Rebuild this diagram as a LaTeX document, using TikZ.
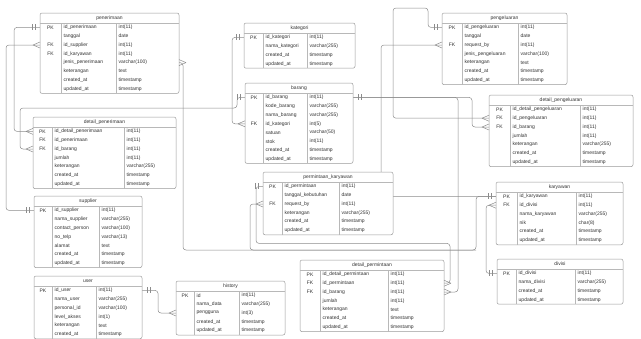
\documentclass[tikz,border=0pt]{standalone}
\usepackage{fontspec}
\setmainfont{Liberation Sans}
\usetikzlibrary{calc,backgrounds}
\definecolor{edgec}{HTML}{8C8C8C}
\definecolor{boxline}{HTML}{9A9A9A}
\definecolor{txt}{HTML}{333333}
\tikzset{
 tbl/.style={draw=boxline, fill=white, line width=0.5pt, rounded corners=2pt},
 erline/.style={draw=boxline!70, line width=0.4pt},
 titletext/.style={font=\fontsize{5}{6}\selectfont, text=txt, inner sep=0pt},
 celltext/.style={font=\fontsize{5}{6}\selectfont, text=txt, inner sep=0pt},
 rowanchor/.style={inner sep=0pt, outer sep=0pt, minimum height=8.8pt},
 conn/.style={draw=edgec, line width=0.5pt, rounded corners=3pt},
 ermark/.style={draw=edgec, line width=0.5pt},
}
\def\rowh{8.8}
\def\tith{10}
% #1 id, #2 left, #3 top, #4 right, #5 col1, #6 col2, #7 nrows, #8 title, #9 rows
\newcommand\ertable[9]{%
 \pgfmathsetmacro\erbot{#3+\tith+#7*\rowh}%
 \pgfmathsetmacro\ertb{#3+\tith}%
 \filldraw[tbl] (#2,#3) rectangle (#4,\erbot);
 \draw[erline] (#2,\ertb) -- (#4,\ertb);
 \draw[erline] (#5,\ertb) -- (#5,\erbot);
 \draw[erline] (#6,\ertb) -- (#6,\erbot);
 \node[titletext] (#1-t) at ({(#2+#4)/2},{#3+\tith/2}) {#8};
 \foreach \erk/\ern/\ert [count=\i] in {#9} {
   \pgfmathsetmacro\ry{\ertb+(\i-0.5)*\rowh}
   \node[rowanchor, minimum width={(#4-#2)*1pt}] (#1-\i) at ({(#2+#4)/2},\ry) {};
   \node[celltext] at ({(#2+#5)/2},\ry) {\erk};
   \node[celltext, anchor=west] at (#5+2.5,\ry) {\ern};
   \node[celltext, anchor=west] at (#6+2.5,\ry) {\ert};
 }%
}
\newcommand\crowW[1]{\draw[ermark] ([xshift=-7pt]#1.west) -- ([yshift=3pt]#1.west) ([xshift=-7pt]#1.west) -- ([yshift=-3pt]#1.west);}
\newcommand\crowE[1]{\draw[ermark] ([xshift=7pt]#1.east) -- ([yshift=3pt]#1.east) ([xshift=7pt]#1.east) -- ([yshift=-3pt]#1.east);}
\newcommand\oneW[1]{\draw[ermark] ([xshift=-5pt,yshift=3pt]#1.west) -- ([xshift=-5pt,yshift=-3pt]#1.west) ([xshift=-8pt,yshift=3pt]#1.west) -- ([xshift=-8pt,yshift=-3pt]#1.west);}
\newcommand\oneE[1]{\draw[ermark] ([xshift=5pt,yshift=3pt]#1.east) -- ([xshift=5pt,yshift=-3pt]#1.east) ([xshift=8pt,yshift=3pt]#1.east) -- ([xshift=8pt,yshift=-3pt]#1.east);}
\begin{document}
\begin{tikzpicture}[x=1pt,y=-1pt]
\useasboundingbox (0,0) rectangle (641,338);
\clip (0,0) rectangle (641,338);

\ertable{pen}{40}{13}{179}{61}{116}{8}{penerimaan}{PK/id\_penerimaan/int(11), {}/tanggal/date, FK/id\_supplier/int(11), FK/id\_karyawan/int(11), {}/jenis\_penerimaan/varchar(100), {}/keterangan/text, {}/created\_at/timestamp, {}/updated\_at/timestamp}

\ertable{dpen}{33}{117}{176}{52}{124}{7}{detail\_penerimaan}{PK/id\_detail\_penerimaan/int(11), FK/id\_penerimaan/int(11), FK/id\_barang/int(11), {}/jumlah/int(11), {}/keterangan/varchar(255), {}/created\_at/timestamp, {}/updated\_at/timestamp}

\ertable{sup}{34}{196}{142}{52}{99}{7}{supplier}{PK/id\_supplier/int(11), {}/nama\_supplier/varchar(255), {}/contact\_person/varchar(100), {}/no\_telp/varchar(13), {}/alamat/text, {}/created\_at/timestamp, {}/updated\_at/timestamp}

\ertable{usr}{34}{276}{142}{52}{96}{6}{user}{PK/id\_user/int(11), {}/nama\_user/varchar(255), {}/personal\_id/varchar(100), {}/level\_akses/int(1), {}/keterangan/text, {}/created\_at/timestamp}

\ertable{his}{176}{281}{285}{194}{239}{5}{history}{PK/id/int(11), {}/nama\_data/varchar(255), {}/pengguna/int(3), {}/created\_at/timestamp, {}/updated\_at/timestamp}

\ertable{kat}{244}{23}{355}{263}{307}{4}{kategori}{PK/id\_kategori/int(11), {}/nama\_kategori/varchar(255), {}/created\_at/timestamp, {}/updated\_at/timestamp}

\ertable{bar}{245}{83}{353}{263}{307}{8}{barang}{PK/id\_barang/int(11), {}/kode\_barang/varchar(255), {}/nama\_barang/varchar(255), FK/id\_kategori/int(5), {}/satuan/varchar(50), {}/stok/int(11), {}/created\_at/timestamp, {}/updated\_at/timestamp}

\ertable{pk}{263}{172}{393}{282}{339}{6}{permintaan\_karyawan}{PK/id\_permintaan/int(11), {}/tanggal\_kebutuhan/date, FK/request\_by/int(11), {}/keterangan/varchar(255), {}/created\_at/timestamp, {}/updated\_at/timestamp}

\ertable{dpm}{300}{260}{444}{320}{388}{7}{detail\_permintaan}{PK/id\_detail\_permintaan/int(11), FK/id\_permintaan/int(11), FK/id\_barang/int(11), {}/jumlah/int(11), {}/keterangan/text, {}/created\_at/timestamp, {}/updated\_at/timestamp}

\ertable{pg}{442}{13}{567}{462}{518}{7}{pengeluaran}{PK/id\_pengeluaran/int(11), {}/tanggal/date, FK/request\_by/int(11), {}/jenis\_pengeluaran/varchar(100), {}/keterangan/text, {}/created\_at/timestamp, {}/updated\_at/timestamp}

\ertable{dpg}{489}{95}{633}{510}{580}{7}{detail\_pengeluaran}{PK/id\_detail\_pengeluaran/int(11), FK/id\_pengeluaran/int(11), FK/id\_barang/int(11), {}/jumlah/int(11), {}/keterangan/varchar(255), {}/created\_at/timestamp, {}/updated\_at/timestamp}

\ertable{kar}{496}{182}{623}{517}{576}{6}{karyawan}{PK/id\_karyawan/int(11), FK/id\_divisi/int(11), {}/nama\_karyawan/varchar(255), {}/nik/char(8), {}/created\_at/timestamp, {}/updated\_at/timestamp}

\ertable{div}{497}{259}{623}{516}{575}{4}{divisi}{PK/id\_divisi/int(11), {}/nama\_divisi/varchar(255), {}/created\_at/timestamp, {}/updated\_at/timestamp}

\coordinate (jE) at (476,250);
\coordinate (jF) at (450,243.4);
\coordinate (jI) at (393,8);
\coordinate (jC) at (20,108);

\begin{scope}[on background layer]
 \fill[white] (0,0) rectangle (641,338);
 \draw[conn] (pen-1.west) -- ++(-26,0) |- (dpen-1.west);
 \draw[conn] (sup-1.west) -- ++(-28,0) |- (pen-3.west);
 \draw[conn] (bar-1.west) -- ++(-8,0) |- (jC) |- (dpen-3.west);
 \draw[conn] (kat-1.west) -- ++(-12,0) |- (bar-4.west);
 \draw[conn] (pen-5.east) -- ++(4,0) |- (jE) |- (kar-1.west);
 \draw[conn] (pk-3.west) -- ++(-13,0) |- (jE);
 \draw[conn] (pk-1.west) -- ++(-7,0) |- (jF) |- (dpm-2.east);
 \draw[conn] (bar-1.east) -| ([xshift=-17pt]dpg-3.west) -- (dpg-3.west);
 \draw[conn] (bar-1.east) -| ([xshift=14pt]dpm-3.east) -- (dpm-3.east);
 \draw[conn] (pg-1.west) -- ++(-14,0) |- (jI) |- (dpg-2.west);
 \draw[conn] (pg-3.west) -- ++(-61,0) |- (kar-1.west);
 \draw[conn] (div-1.west) -- ++(-11,0) |- (kar-2.west);
 \draw[conn] (usr-1.east) -- ++(16,0) |- (his-3.west);
\end{scope}

\oneW{pen-1} \crowW{dpen-1}
\oneW{sup-1} \crowW{pen-3}
\oneW{bar-1} \crowW{dpen-3}
\oneW{kat-1} \crowW{bar-4}
\crowE{pen-5} \oneW{kar-1}
\crowW{pk-3}
\oneW{pk-1} \crowE{dpm-2}
\oneE{bar-1} \crowW{dpg-3}
\crowE{dpm-3}
\oneW{pg-1} \crowW{dpg-2}
\crowW{pg-3}
\oneW{div-1} \crowW{kar-2}
\oneE{usr-1} \crowW{his-3}
\end{tikzpicture}
\end{document}
